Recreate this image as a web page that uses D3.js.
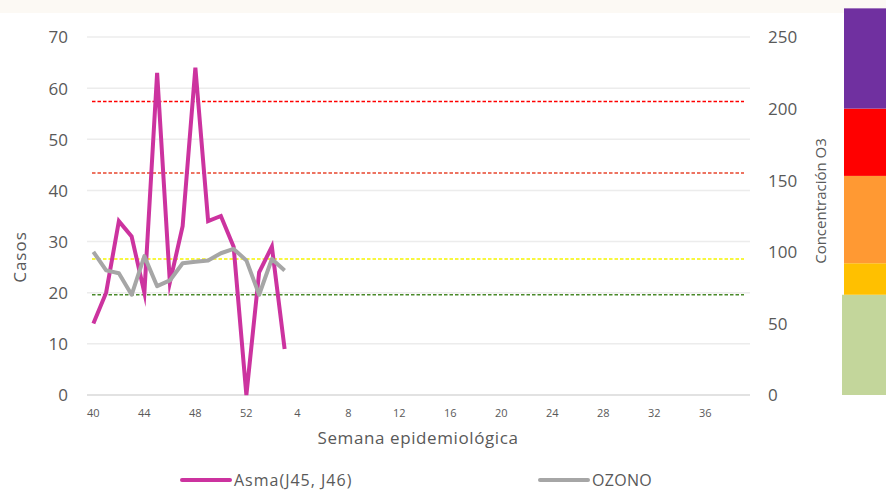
<!DOCTYPE html>
<html>
<head>
<meta charset="utf-8">
<script src="https://cdn.jsdelivr.net/npm/d3@7"></script>
<style>
  html, body { margin: 0; padding: 0; background: #ffffff; }
  svg { display: block; }
  text { font-family: "Open Sans", "Liberation Sans", sans-serif; fill: #595959; }
</style>
</head>
<body>
<svg id="chart" width="886" height="491"></svg>
<script>
// ---- data ----
const weeks = [40,41,42,43,44,45,46,47,48,49,50,51,52,
  1,2,3,4,5,6,7,8,9,10,11,12,13,14,15,16,17,18,19,20,21,22,23,24,25,26,27,28,29,30,31,32,33,34,35,36,37,38,39];
const tickWeeks = [40,44,48,52,4,8,12,16,20,24,28,32,36];
const asmaWeeks = [40,41,42,43,44,45,46,47,48,49,50,51,52,1,2,3];
const asmaValues = [14,20,34,31,20,63,22,33,64,34,35,29,0,24,29,9];
const ozonoValues = [100,87,85,70,97,76,80,92,93,94,99,102,94,70,95,87];
const leftTicks = [0,10,20,30,40,50,60,70];
const rightTicks = [0,50,100,150,200,250];
const thresholdValues = [70,95,155,205];
const thresholdColors = ["#4a8a2a","#f5f500","#e8462e","#ff0000"];
const bandStops = [0,70,92,153,200,270];
const bandColors = ["#c3d69b","#ffc000","#ff9933","#ff0000","#7030a0"];
const seriesNames = ["Asma(J45, J46)","OZONO"];
const seriesColors = ["#cc339f","#a6a6a6"];

const svg = d3.select("#chart");

// faint background decoration (watermark band)
svg.append("rect").attr("x",0).attr("y",0).attr("width",886).attr("height",13).attr("fill","#fcf9f4");

const x = d3.scaleBand().domain(weeks).range([87,750]).paddingInner(0).paddingOuter(0);
const cx = w => x(w) + x.bandwidth()/2;
const yL = d3.scaleLinear().domain([0,70]).range([395,37]);
const yR = d3.scaleLinear().domain([0,250]).range([395,37]);

// gridlines
svg.append("g").selectAll("line").data(leftTicks).join("line")
  .attr("x1",87).attr("x2",750)
  .attr("y1",d=>yL(d)).attr("y2",d=>yL(d))
  .attr("stroke", d => d===0 ? "#d9d9d9" : "#ececec").attr("stroke-width",1.5);

// left axis
const gL = svg.append("g").attr("transform","translate(68,0)")
  .call(d3.axisLeft(yL).tickValues(leftTicks).tickSize(0).tickPadding(0));
gL.select(".domain").remove();
gL.selectAll("text").style("font-size","17px").attr("fill","#595959").attr("dy","0.35em");

// right axis
const gR = svg.append("g").attr("transform","translate(768,0)")
  .call(d3.axisRight(yR).tickValues(rightTicks).tickSize(0).tickPadding(0));
gR.select(".domain").remove();
gR.selectAll("text").style("font-size","17px").attr("fill","#595959").attr("dy","0.35em");

// bottom axis
const gB = svg.append("g").attr("transform","translate(0,395)")
  .call(d3.axisBottom(x).tickValues(tickWeeks).tickSize(0).tickPadding(14));
gB.select(".domain").remove();
gB.selectAll("text").style("font-size","11px").attr("fill","#595959");

// axis titles
svg.append("text").attr("transform","translate(26,257) rotate(-90)")
  .attr("text-anchor","middle").style("font-size","17px").style("letter-spacing","1px").text("Casos");
svg.append("text").attr("transform","translate(826,201) rotate(-90)")
  .attr("text-anchor","middle").style("font-size","15px").text("Concentración O3");
svg.append("text").attr("x",418).attr("y",444)
  .attr("text-anchor","middle").style("font-size","17px").style("letter-spacing","0.6px").text("Semana epidemiológica");

// threshold dashed lines
svg.append("g").selectAll("line").data(thresholdValues).join("line")
  .attr("x1",92).attr("x2",744)
  .attr("y1",d=>yR(d)).attr("y2",d=>yR(d))
  .attr("stroke",(d,i)=>thresholdColors[i]).attr("stroke-width",1.6)
  .attr("stroke-dasharray","3.5,2");

// series lines
const asmaData = asmaWeeks.map((w,i)=>({w, v: asmaValues[i]}));
const ozoneData = asmaWeeks.map((w,i)=>({w, v: ozonoValues[i]}));
svg.append("path").datum(asmaData)
  .attr("fill","none").attr("stroke",seriesColors[0]).attr("stroke-width",4)
  .attr("stroke-linejoin","miter").attr("stroke-miterlimit",10)
  .attr("d", d3.line().x(d=>cx(d.w)).y(d=>yL(d.v)));
svg.append("path").datum(ozoneData)
  .attr("fill","none").attr("stroke",seriesColors[1]).attr("stroke-width",4)
  .attr("stroke-linejoin","round")
  .attr("d", d3.line().x(d=>cx(d.w)).y(d=>yR(d.v)));

// color band at right
const bands = bandColors.map((c,i)=>({c, lo: bandStops[i], hi: bandStops[i+1]}));
svg.append("g").selectAll("rect").data(bands).join("rect")
  .attr("x",(d,i)=> i===0 ? 842 : 844)
  .attr("width",(d,i)=> i===0 ? 44 : 42)
  .attr("y",d=>yR(d.hi)).attr("height",d=>yR(d.lo)-yR(d.hi))
  .attr("fill",d=>d.c);

// legend
const legX = [182,540];
const leg = svg.append("g").selectAll("g").data(seriesNames).join("g")
  .attr("transform",(d,i)=>`translate(${legX[i]},480)`);
leg.append("line").attr("x1",0).attr("x2",48).attr("y1",0).attr("y2",0)
  .attr("stroke",(d,i)=>seriesColors[i]).attr("stroke-width",4).attr("stroke-linecap","round");
leg.append("text").attr("x",52).attr("y",0).attr("dy","0.35em")
  .style("font-size","16px").style("letter-spacing",(d,i)=> i===0 ? "1px" : "0.3px").text(d=>d);
</script>
</body>
</html>
